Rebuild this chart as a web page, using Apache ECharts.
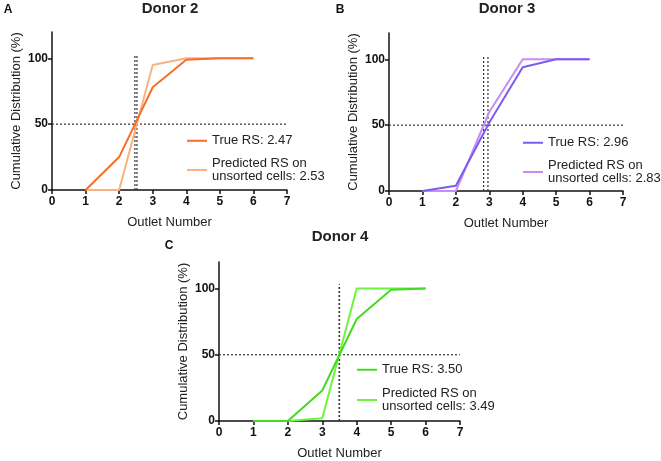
<!DOCTYPE html>
<html>
<head>
<meta charset="utf-8">
<script src="https://cdn.jsdelivr.net/npm/echarts@6/dist/echarts.min.js"></script>
<style>html,body{margin:0;padding:0;background:#fff;}#c{width:661px;height:461px;}</style>
</head>
<body>
<div id="c"></div>
<script>
const outlets = [1, 2, 3, 4, 5, 6];
const xTicks = [0, 1, 2, 3, 4, 5, 6, 7];
const yTicks = [0, 50, 100];
const titles = ['Donor 2', 'Donor 3', 'Donor 4'];
const letters = ['A', 'B', 'C'];
const d2True = [0, 25, 78, 99, 100, 100];
const d2Pred = [0, 0, 95, 100, 100, 100];
const d3True = [0, 4, 52, 94, 100, 100];
const d3Pred = [0, 0, 60, 100, 100, 100];
const d4True = [0, 0, 23, 77, 99, 100];
const d4Pred = [0, 0, 2, 100, 100, 100];
const rsTrue = [2.47, 2.96, 3.50];
const rsPred = [2.53, 2.83, 3.49];
const midLevel = 50;
const vLineTop = 103;

const FONT = 'Liberation Sans, Arial, sans-serif';
const colors = [
  ['#f47028', '#fbb182'],
  ['#7b5cef', '#c98cf2'],
  ['#44da22', '#6cf53a']
];
const trueData = [d2True, d3True, d4True];
const predData = [d2Pred, d3Pred, d4Pred];

const grids = [
  {left: 52, top: 32, width: 235, height: 158},
  {left: 389, top: 33, width: 234, height: 158},
  {left: 219, top: 262, width: 241, height: 161}
];
const legendPos = [
  {left: 187, top: 134, gap: 9},
  {left: 523, top: 136, gap: 9},
  {left: 357, top: 363, gap: 10}
];
const titlePos = [[170, 9], [507, 9], [340, 237]];
const letterPos = [[8, 10], [340, 10], [169, 246]];

const xAxis = [], yAxis = [], series = [], legend = [], graphic = [];
const trueName = (i) => 'True RS: ' + rsTrue[i].toFixed(2);
const predName = (i) => 'Predicted RS on\nunsorted cells: ' + rsPred[i].toFixed(2);

for (let i = 0; i < 3; i++) {
  xAxis.push({
    type: 'value', gridIndex: i, min: 0, max: 7, interval: 1,
    name: 'Outlet Number', nameLocation: 'middle', nameGap: 26,
    nameTextStyle: {fontFamily: FONT, fontSize: 13, color: '#222'},
    axisLine: {lineStyle: {color: '#111', width: 1.5}},
    axisTick: {show: true, length: 4, lineStyle: {color: '#111', width: 1.5}},
    axisLabel: {fontFamily: FONT, fontSize: 12, fontWeight: 'bold', color: '#111', margin: 6,
      formatter: (v) => xTicks.includes(v) ? String(v) : ''},
    splitLine: {show: false}
  });
  yAxis.push({
    type: 'value', gridIndex: i, min: 0, max: 120,
    name: 'Cumulative Distribution (%)', nameLocation: 'middle', nameGap: 29,
    nameTextStyle: {fontFamily: FONT, fontSize: 13, color: '#222'},
    axisLine: {show: true, lineStyle: {color: '#111', width: 1.5}},
    axisTick: {show: true, length: 4, customValues: yTicks, lineStyle: {color: '#111', width: 1.5}},
    axisLabel: {fontFamily: FONT, fontSize: 12, fontWeight: 'bold', color: '#111', margin: 4, customValues: yTicks},
    splitLine: {show: false}
  });
  const refStyle = {color: '#333', width: 1.2, type: [2, 2]};
  series.push({
    type: 'line', xAxisIndex: i, yAxisIndex: i, symbol: 'none', silent: true,
    data: [[0, midLevel], [7, midLevel]], lineStyle: refStyle, z: 1
  });
  series.push({
    type: 'line', xAxisIndex: i, yAxisIndex: i, symbol: 'none', silent: true,
    data: [[rsTrue[i], 0], [rsTrue[i], vLineTop]], lineStyle: refStyle, z: 1
  });
  series.push({
    type: 'line', xAxisIndex: i, yAxisIndex: i, symbol: 'none', silent: true,
    data: [[rsPred[i], 0], [rsPred[i], vLineTop]], lineStyle: refStyle, z: 1
  });
  series.push({
    name: predName(i), type: 'line', xAxisIndex: i, yAxisIndex: i, symbol: 'none',
    data: outlets.map((x, k) => [x, predData[i][k]]),
    lineStyle: {color: colors[i][1], width: 2}, itemStyle: {color: colors[i][1]}, z: 2
  });
  series.push({
    name: trueName(i), type: 'line', xAxisIndex: i, yAxisIndex: i, symbol: 'none',
    data: outlets.map((x, k) => [x, trueData[i][k]]),
    lineStyle: {color: colors[i][0], width: 2}, itemStyle: {color: colors[i][0]}, z: 3
  });
  legend.push({
    orient: 'vertical', left: legendPos[i].left, top: legendPos[i].top, padding: 0,
    itemGap: legendPos[i].gap, itemWidth: 20, itemHeight: 14,
    data: [trueName(i), predName(i)],
    textStyle: {fontFamily: FONT, fontSize: 13, color: '#222', lineHeight: 13.5},
    icon: 'path://M0,0L20,0L20,2L0,2Z'
  });
  graphic.push({
    type: 'text', x: titlePos[i][0], y: titlePos[i][1],
    style: {text: titles[i], fontFamily: FONT, fontSize: 15, fontWeight: 'bold', fill: '#222',
      align: 'center', verticalAlign: 'middle'}
  });
  graphic.push({
    type: 'text', x: letterPos[i][0], y: letterPos[i][1],
    style: {text: letters[i], fontFamily: FONT, fontSize: 12, fontWeight: 'bold', fill: '#111',
      align: 'center', verticalAlign: 'middle'}
  });
}

const chart = echarts.init(document.getElementById('c'), null, {renderer: 'canvas'});
chart.setOption({
  animation: false,
  backgroundColor: '#fff',
  grid: grids,
  xAxis, yAxis, series, legend, graphic
});
</script>
</body>
</html>
